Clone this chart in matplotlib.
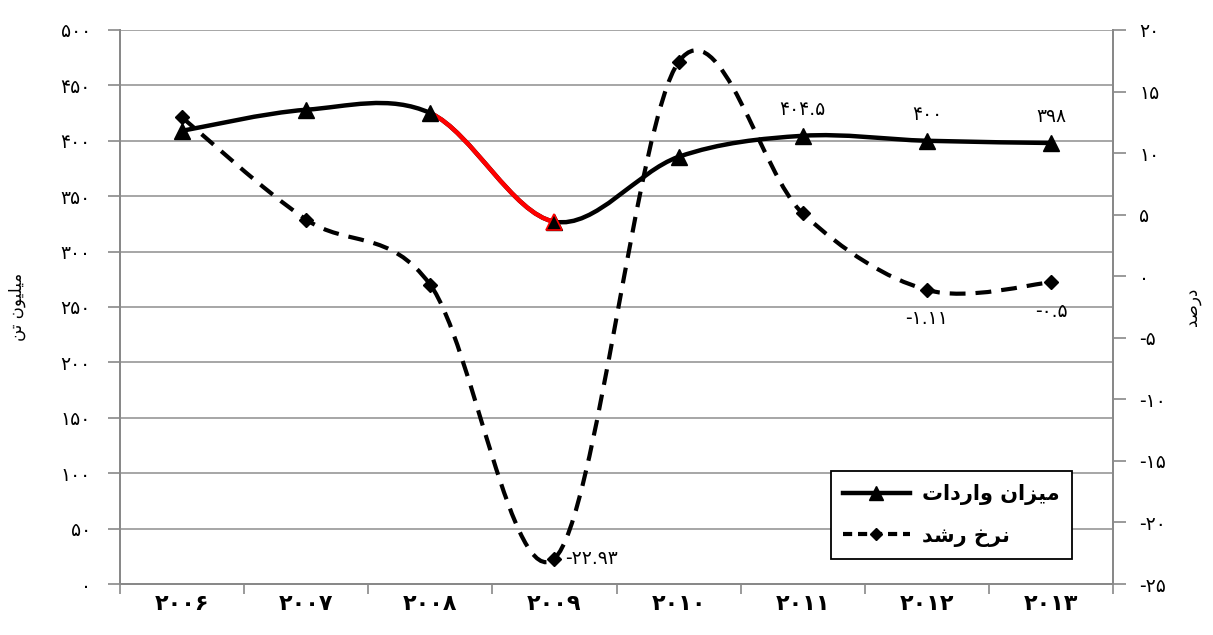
import matplotlib
matplotlib.use("Agg")
import matplotlib.pyplot as plt
from matplotlib.path import Path
from matplotlib.patches import PathPatch
from matplotlib.lines import Line2D

plt.rcParams['font.family'] = ['DejaVu Sans']

years = ['2006', '2007', '2008', '2009', '2010', '2011', '2012', '2013']
imports = [409, 428, 425, 327, 385.5, 404.5, 400, 398]     # میلیون تن
growth = [12.9, 4.6, -0.7, -22.93, 17.4, 5.1, -1.11, -0.5]  # درصد
imp_labels = {5: '404.5', 6: '400', 7: '398'}
gr_labels = {3: '-22.93', 6: '-1.11', 7: '-0.5'}
left_ticks = list(range(0, 501, 50))
right_ticks = list(range(-25, 21, 5))

# متن فارسی به صورت شکل‌های نمایشی (matplotlib شکل‌دهی عربی ندارد)
leg_imp = '\ufe95\ufe8d\ufea9\ufead\ufe8d\ufeed \ufee5\ufe8d\ufeb0\ufef4\ufee3'
leg_gr = '\ufeaa\ufeb7\ufead \ufea5\ufeae\ufee7'
ylab_left = '\ufee6\ufe97 \ufee5\ufeee\ufef4\ufee0\ufef4\ufee3'
ylab_right = '\ufeaa\ufebb\ufead\ufea9'

FA = str.maketrans('0123456789', '\u06f0\u06f1\u06f2\u06f3\u06f4\u06f5\u06f6\u06f7\u06f8\u06f9')


def fa(s):
    return str(s).translate(FA)


def segments(x, y):
    # کنترل‌های بزیه مثل خط نرم اکسل
    n = len(x)
    segs = []
    for i in range(n - 1):
        xa, ya = (x[i - 1], y[i - 1]) if i > 0 else (x[i], y[i])
        xb, yb = (x[i + 2], y[i + 2]) if i + 2 < n else (x[i + 1], y[i + 1])
        c1 = (x[i] + (x[i + 1] - xa) / 6, y[i] + (y[i + 1] - ya) / 6)
        c2 = (x[i + 1] - (xb - x[i]) / 6, y[i + 1] - (yb - y[i]) / 6)
        segs.append([(x[i], y[i]), c1, c2, (x[i + 1], y[i + 1])])
    return segs


def make_path(segs):
    verts = [segs[0][0]]
    codes = [Path.MOVETO]
    for s in segs:
        verts += s[1:]
        codes += [Path.CURVE4] * 3
    return Path(verts, codes)


xs = list(range(len(years)))

fig = plt.figure(figsize=(12.13, 6.35), dpi=100)
ax = fig.add_axes([0.0989, 0.0803, 0.8187, 0.8725])
ax2 = ax.twinx()

grey = '#898989'
ax.set_xlim(-0.5, len(years) - 0.5)
ax.set_ylim(0, 500)
ax2.set_ylim(-25, 20)

ax.set_yticks(left_ticks)
ax.set_yticklabels([fa(t) for t in left_ticks], fontsize=13.5)
ax2.set_yticks(right_ticks)
ax2.set_yticklabels([fa(t) for t in right_ticks], fontsize=13.5)

ax.set_xticks([i - 0.5 for i in range(len(years) + 1)])
ax.set_xticklabels([])
ax.set_xticks(xs, minor=True)
ax.set_xticklabels([fa(y) for y in years], minor=True, fontsize=16, fontweight='bold')
ax.tick_params(axis='x', which='minor', length=0, pad=7)
ax.tick_params(axis='x', which='major', length=7, color=grey, width=1.2)
ax.tick_params(axis='y', length=9, color=grey, width=1.2, pad=12)
ax2.tick_params(axis='y', length=9, color=grey, width=1.2, pad=10)

ax.yaxis.grid(True, color='#a6a6a6', linewidth=1.4)
ax.set_axisbelow(True)
for a in (ax, ax2):
    a.spines['top'].set_visible(False)
    for side in ('left', 'right', 'bottom'):
        a.spines[side].set_color(grey)
        a.spines[side].set_linewidth(1.4)

ax.set_ylabel(ylab_left, fontsize=12, rotation=90, labelpad=25)
ax2.set_ylabel(ylab_right, fontsize=12, rotation=90, labelpad=12)

# میزان واردات
seg_i = segments(xs, imports)
ax2.add_patch(PathPatch(make_path(seg_i), facecolor='none', edgecolor='black',
                        linewidth=3.2, transform=ax.transData, zorder=3, capstyle='round'))
ax2.add_patch(PathPatch(make_path([seg_i[2]]), facecolor='none', edgecolor='red',
                        linewidth=3.2, transform=ax.transData, zorder=3.1))
tri_trans = ax.transData
ax2.plot(xs, imports, linestyle='none', marker='^', markersize=11, color='black',
         transform=tri_trans, zorder=4)
ax2.plot([xs[3]], [imports[3]], linestyle='none', marker='^', markersize=11,
         markerfacecolor='black', markeredgecolor='red', markeredgewidth=1.2,
         transform=tri_trans, zorder=4.1)

# نرخ رشد
seg_g = segments(xs, growth)
ax2.add_patch(PathPatch(make_path(seg_g), facecolor='none', edgecolor='black',
                        linewidth=3.0, linestyle=(0, (3.8, 2.4)), zorder=3))
ax2.plot(xs, growth, linestyle='none', marker='D', markersize=7, color='black', zorder=4)

for i, t in imp_labels.items():
    ax2.annotate(fa(t), (xs[i], imports[i]), xycoords=ax.transData, xytext=(0, 12),
                 textcoords='offset points', ha='center', va='bottom', fontsize=13.5)
for i, t in gr_labels.items():
    if i == 3:
        ax2.annotate(fa(t), (xs[i], growth[i]), xytext=(8, 0), textcoords='offset points',
                     ha='left', va='center', fontsize=13.5)
    else:
        ax2.annotate(fa(t), (xs[i], growth[i]), xytext=(0, -14), textcoords='offset points',
                     ha='center', va='top', fontsize=13.5)

handles = [Line2D([], [], color='black', linewidth=3.2, marker='^', markersize=10),
           Line2D([], [], color='black', linewidth=3.0, linestyle=(0, (2.2, 1.4)),
                  marker='D', markersize=6)]
leg = ax2.legend(handles, [leg_imp, leg_gr], loc='upper left', bbox_to_anchor=(0.705, 0.222),
                 fancybox=False, edgecolor='black', framealpha=1, handlelength=3.2,
                 prop={'size': 15, 'weight': 'bold'}, borderpad=0.6, labelspacing=1.0,
                 handletextpad=0.6)
leg.get_frame().set_linewidth(1.3)
leg.set_zorder(10)

fig.savefig('out.png', dpi=100)
